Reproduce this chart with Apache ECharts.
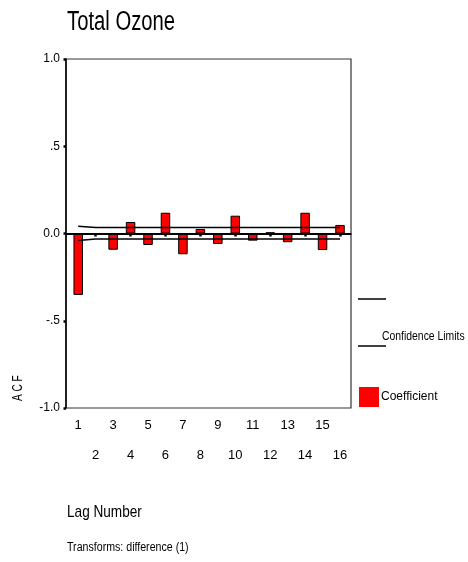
<!DOCTYPE html>
<html>
<head>
<meta charset="utf-8">
<script src="https://cdn.jsdelivr.net/npm/echarts@6/dist/echarts.min.js"></script>
<style>
html,body{margin:0;padding:0;background:#fff;}
#chart{width:468px;height:562px;}
</style>
</head>
<body>
<div id="chart"></div>
<script>
var lags = [1, 2, 3, 4, 5, 6, 7, 8, 9, 10, 11, 12, 13, 14, 15, 16];
var acfValues = [-0.352, -0.005, -0.093, 0.066, -0.066, 0.119, -0.119, 0.026, -0.060, 0.102, -0.041, 0.007, -0.050, 0.119, -0.095, 0.049];
var upperLimit = [0.042, 0.034, 0.034, 0.034, 0.034, 0.034, 0.034, 0.034, 0.034, 0.034, 0.034, 0.034, 0.034, 0.034, 0.034, 0.034];
var lowerLimit = [-0.040, -0.032, -0.032, -0.032, -0.032, -0.032, -0.032, -0.032, -0.032, -0.032, -0.032, -0.032, -0.032, -0.032, -0.032, -0.032];
var yTicks = [-1, -0.5, 0, 0.5, 1];
var yTickLabels = ['-1.0', '-.5', '0.0', '.5', '1.0'];

var FONT = "'Liberation Sans', Arial, sans-serif";

function pairs(ys) {
  return lags.map(function (l, i) { return [l, ys[i]]; });
}

var chart = echarts.init(document.getElementById('chart'), null, {renderer: 'canvas'});
chart.setOption({
  animation: false,
  backgroundColor: '#fff',
  legend: {
    data: ['Coefficient'],
    left: 359, top: 387, padding: 0,
    itemWidth: 20, itemHeight: 20, icon: 'rect',
    itemStyle: {borderWidth: 0},
    textStyle: {fontFamily: FONT, fontSize: 12, color: '#000', padding: [0, 0, 0, -3]}
  },
  grid: {
    left: 66, top: 59, right: 117, bottom: 154,
    show: true, borderColor: '#333', borderWidth: 1.2, backgroundColor: 'transparent'
  },
  xAxis: {
    type: 'value', min: 0.3, max: 16.63,
    axisLine: {show: true, lineStyle: {color: '#000', width: 1.5}},
    axisTick: {show: true, customValues: lags, length: 3, lineStyle: {color: '#000', width: 2.5}},
    axisLabel: {
      customValues: lags, margin: 2.5, lineHeight: 30,
      fontFamily: FONT, fontSize: 13, color: '#000',
      formatter: function (v) { return (v % 2 === 0) ? '\n' + v : String(v); }
    },
    splitLine: {show: false}
  },
  yAxis: {
    type: 'value', min: -1, max: 1, interval: 0.5,
    axisLine: {show: true, lineStyle: {color: '#000', width: 1.5}},
    axisTick: {show: true, length: 2.5, lineStyle: {color: '#000', width: 2.5}},
    axisLabel: {
      margin: 6, fontFamily: FONT, fontSize: 12, color: '#000',
      formatter: function (v) {
        var i = yTicks.indexOf(Math.round(v * 10) / 10);
        return i >= 0 ? yTickLabels[i] : '';
      }
    },
    splitLine: {show: false}
  },
  graphic: [
    {type: 'text', x: 67, y: 23, scaleX: 0.75,
     style: {text: 'Total Ozone', font: '27px ' + FONT, fill: '#000', textAlign: 'left', textVerticalAlign: 'middle'}},
    {type: 'text', x: 67, y: 512, scaleX: 0.8,
     style: {text: 'Lag Number', font: '17px ' + FONT, fill: '#000', textAlign: 'left', textVerticalAlign: 'middle'}},
    {type: 'text', x: 67, y: 548, scaleX: 0.85,
     style: {text: 'Transforms: difference (1)', font: '12.5px ' + FONT, fill: '#000', textAlign: 'left', textVerticalAlign: 'middle'}},
    {type: 'text', x: 18, y: 401, rotation: Math.PI / 2, scaleX: 0.72,
     style: {text: 'A C F', font: '14px ' + FONT, fill: '#000', textAlign: 'left', textVerticalAlign: 'middle'}},
    {type: 'line', shape: {x1: 358, y1: 299, x2: 386, y2: 299}, style: {stroke: '#000', lineWidth: 1.5}},
    {type: 'line', shape: {x1: 358, y1: 346, x2: 386, y2: 346}, style: {stroke: '#000', lineWidth: 1.5}},
    {type: 'text', x: 382, y: 336, scaleX: 0.8,
     style: {text: 'Confidence Limits', font: '13px ' + FONT, fill: '#000', textAlign: 'left', textVerticalAlign: 'middle'}}
  ],
  series: [
    {
      name: 'Coefficient', type: 'bar', barWidth: 9.5,
      data: pairs(acfValues),
      itemStyle: {color: '#ff0000', borderColor: '#000', borderWidth: 1},
      markLine: {
        silent: true, symbol: 'none', label: {show: false},
        lineStyle: {color: '#000', width: 2, type: 'solid'},
        data: [{yAxis: 0}]
      }
    },
    {
      name: 'Upper Limit', type: 'line', data: pairs(upperLimit),
      symbol: 'none', lineStyle: {color: '#000', width: 1.5}, z: 3
    },
    {
      name: 'Lower Limit', type: 'line', data: pairs(lowerLimit),
      symbol: 'none', lineStyle: {color: '#000', width: 1.5}, z: 3
    }
  ]
});
</script>
</body>
</html>
